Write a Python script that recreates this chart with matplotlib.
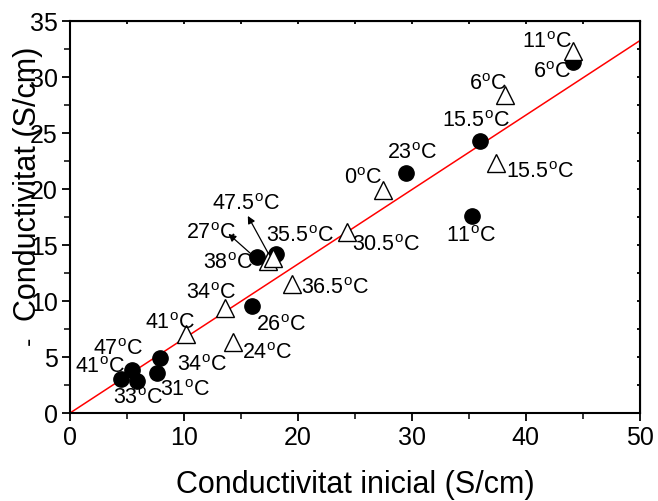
import matplotlib
matplotlib.use("Agg")
import matplotlib.pyplot as plt
import numpy as np

plt.rcParams['font.family'] = ['Liberation Sans', 'DejaVu Sans']
plt.rcParams['mathtext.default'] = 'regular'

# mostres inicials / finals (cercles plens)
cercles_x = [44.1, 36.0, 29.5, 35.3, 16.4, 18.1, 15.95, 7.9, 7.6, 5.4, 5.9, 4.5]
cercles_y = [31.3, 24.3, 21.4, 17.6, 13.9, 14.2, 9.6, 4.9, 3.6, 3.8, 2.9, 3.0]

# segona serie (triangles buits)
triangles_x = [44.1, 38.2, 37.4, 27.5, 24.3, 17.4, 17.8, 19.5, 13.6, 10.2, 14.3]
triangles_y = [32.3, 28.4, 22.3, 19.9, 16.2, 13.6, 13.8, 11.5, 9.4, 7.1, 6.3]

# recta de referencia
pendent = 0.665

# etiquetes de temperatura: (text, x, y)
etiquetes = [
    ("11", 39.7, 33.1), ("6", 40.6, 30.4), ("6", 35.0, 29.3),
    ("15.5", 32.6, 26.0), ("15.5", 38.3, 21.5), ("23", 27.8, 23.2),
    ("11", 33.0, 15.8), ("0", 24.0, 20.9), ("30.5", 24.7, 15.0),
    ("35.5", 17.2, 15.8), ("38", 11.7, 13.35), ("34", 10.2, 10.7),
    ("36.5", 20.3, 11.1), ("26", 16.3, 7.8), ("24", 15.1, 5.3),
    ("41", 6.6, 8.0), ("47", 2.0, 5.7), ("41", 0.45, 4.05),
    ("34", 9.35, 4.2), ("31", 7.9, 2.05), ("33", 3.8, 1.3),
]
# etiquetes amb fletxa: (text, pos text, punta, cua)
fletxes = [
    ("47.5", (12.5, 18.65), (15.6, 17.6), (17.4, 14.25)),
    ("27", (10.2, 16.0), (13.9, 16.0), (16.0, 14.1)),
]

fig = plt.figure(figsize=(6.58, 5.01), dpi=100)
ax = fig.add_axes([0.1064, 0.1756, 0.866, 0.7824])

ax.plot([0, 50], [0, 50 * pendent], color='red', lw=1.1, zorder=1)
ax.plot(cercles_x, cercles_y, 'o', color='black', ms=11, zorder=3)
ax.plot(triangles_x, triangles_y, '^', mfc='white', mec='black', mew=1.0,
        ms=13, zorder=4)

def graus(t):
    return t + r"$^{o}$C"

for t, x, y in etiquetes:
    ax.text(x, y, graus(t), fontsize=15.5, ha='left', va='center', zorder=5)

for t, pos, punta, cua in fletxes:
    ax.text(pos[0], pos[1], graus(t), fontsize=15.5, ha='left', va='center')
    ax.annotate('', xy=punta, xytext=cua,
                arrowprops=dict(arrowstyle='-|>', color='black', lw=0.9,
                                mutation_scale=11, shrinkA=0, shrinkB=0))

ax.set_xlim(0, 50)
ax.set_ylim(0, 35)
ax.set_xticks(np.arange(0, 51, 10))
ax.set_xticks(np.arange(0, 51, 5), minor=True)
ax.set_yticks(np.arange(0, 36, 5))
ax.set_yticks(np.arange(0, 36, 2.5), minor=True)
ax.tick_params(which='major', direction='out', length=6, width=1.3,
               labelsize=18, pad=3)
ax.tick_params(which='minor', direction='out', length=4, width=1.1)
for s in ax.spines.values():
    s.set_linewidth(1.5)

# marques petites a dalt i a la dreta
dalt = ax.secondary_xaxis('top')
dalt.set_xticks(np.arange(5, 50, 5))
dalt.tick_params(direction='in', length=2.5, width=1.3, labeltop=False)
dreta = ax.secondary_yaxis('right')
dreta.set_yticks(np.arange(2.5, 35, 2.5))
dreta.tick_params(direction='in', length=2.5, width=1.3, labelright=False)

ax.set_xlabel('Conductivitat inicial (S/cm)', fontsize=22, labelpad=15)
fig.text(0.043, 0.634, 'Conductivitat (S/cm)', rotation=90, fontsize=22,
         ha='center', va='center')
fig.text(0.044, 0.32, '-', rotation=90, fontsize=18, ha='center', va='center')

fig.savefig('out.png', dpi=100)
